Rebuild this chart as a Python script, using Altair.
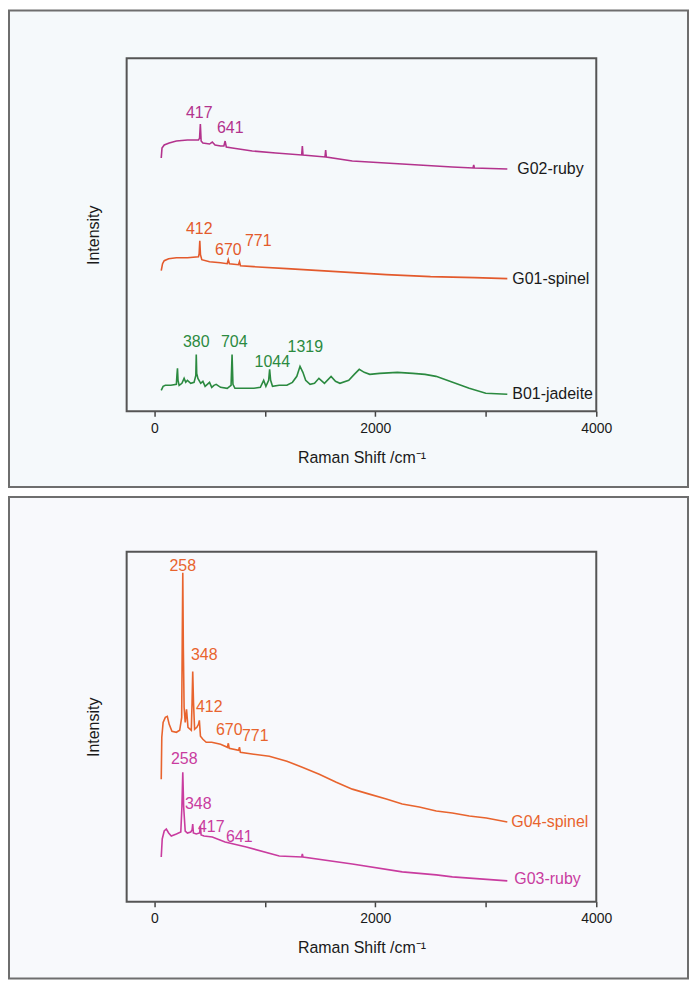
import altair as alt
import pandas as pd

# ---------------- data ----------------
X_DOMAIN = [-250, 4000]
X_TICKS = [0, 1000, 2000, 3000, 4000]
H_TOP = 354
H_BOT = 351
W = 471

# top panel spectra (intensity in arbitrary units)
G02_X = [63, 70, 90, 135, 200, 300, 400, 410, 417, 424, 440, 500, 525, 550, 600, 630, 641, 652, 706, 887,
         1100, 1334, 1340, 1346, 1545, 1551, 1557, 1792, 2244, 2697, 2885, 2891, 2897, 3195]
G02_Y = [254, 264, 267, 269, 271, 272, 272, 274, 288, 271, 269, 268, 270, 267, 266, 266, 271, 265, 264, 261,
         259, 257, 266, 257, 255, 262, 255, 251, 248, 245, 244, 247, 244, 243]

G01_X = [63, 75, 90, 130, 200, 300, 400, 406, 412, 418, 430, 500, 600, 660, 670, 680, 762, 771, 780, 900,
         1200, 1500, 1800, 2100, 2500, 2900, 3195]
G01_Y = [141, 148, 151, 153, 154, 154, 155, 158, 171, 157, 152, 150, 149, 148, 152, 148, 147, 150, 146, 145,
         143, 141, 139, 137, 135, 134, 133]

B01_X = [63, 80, 100, 150, 200, 205, 210, 215, 225, 250, 270, 285, 300, 330, 360, 376, 380, 384, 395, 420,
         440, 460, 480, 500, 520, 540, 560, 600, 660, 695, 704, 712, 730, 800, 900, 960, 990, 1010, 1035, 1044,
         1053, 1070, 1130, 1200, 1250, 1290, 1319, 1345, 1370, 1410, 1450, 1490, 1540, 1600, 1640, 1680, 1760,
         1810, 1855, 1900, 1950, 2040, 2200, 2340, 2450, 2550, 2700, 2850, 3000, 3195]
B01_Y = [21, 25, 26, 26, 27, 36, 43, 31, 26, 28, 33, 29, 31, 28, 29, 36, 57, 38, 33, 28,
         30, 25, 27, 29, 24, 26, 27, 24, 23, 26, 57, 27, 23, 23, 23, 24, 31, 25, 31, 42,
         31, 25, 26, 26, 29, 35, 45, 39, 31, 27, 28, 33, 28, 35, 30, 28, 31,
         37, 42, 39, 37, 38, 39, 38, 37, 35, 29, 23, 18, 17]

# bottom panel spectra
G04_X = [63, 68, 80, 100, 118, 135, 160, 200, 230, 248, 253, 258, 263, 270, 280, 292, 305, 335, 342, 348,
         355, 365, 385, 400, 408, 418, 440, 470, 520, 600, 662, 670, 678, 763, 771, 779, 900, 1041, 1200, 1339,
         1493, 1647, 1792, 1946, 2100, 2244, 2398, 2552, 2697, 2851, 3005, 3195]
G04_Y = [123, 165, 180, 185, 186, 178, 171, 170, 172, 185, 260, 330, 255, 195, 180, 193, 175, 172, 200, 231,
         200, 173, 175, 178, 182, 166, 163, 160, 160, 158, 155, 159, 154, 152, 155, 150, 148, 146, 141, 135,
         128, 120, 113, 108, 103, 98, 95, 91, 89, 86, 84, 80]

G03_X = [63, 72, 90, 109, 130, 154, 200, 240, 250, 258, 266, 280, 300, 330, 342, 348, 354, 380, 410, 417,
         424, 450, 525, 641, 833, 1131, 1334, 1340, 1346, 1792, 2244, 2552, 2697, 3195]
G03_Y = [45, 63, 71, 73, 69, 66, 68, 70, 95, 130, 95, 71, 69, 70, 72, 78, 69, 68, 69, 76,
         67, 66, 65, 60, 55, 46, 45, 48, 45, 38, 30, 27, 25, 21]

# peak annotations
TOP_PEAK_TEXT = ["417", "641", "412", "670", "771", "380", "704", "1044", "1319"]
TOP_PEAK_X = [407, 688, 407, 670, 941, 380, 724, 1068, 1367]
TOP_PEAK_Y = [299, 284, 183, 162, 171, 69, 69, 49, 64]
TOP_PEAK_SERIES = ["G02", "G02", "G01", "G01", "G01", "B01", "B01", "B01", "B01"]

BOT_PEAK_TEXT = ["258", "348", "412", "670", "771", "258", "348", "417", "641"]
BOT_PEAK_X = [258, 452, 498, 679, 914, 271, 398, 516, 769]
BOT_PEAK_Y = [337, 248, 195, 172, 166, 143, 98, 75, 65]
BOT_PEAK_SERIES = ["G04", "G04", "G04", "G04", "G04", "G03", "G03", "G03", "G03"]

# series names
TOP_NAMES = ["G02-ruby", "G01-spinel", "B01-jadeite"]
TOP_NAME_X = [3285, 3240, 3240]
TOP_NAME_Y = [243, 133, 17]
BOT_NAMES = ["G04-spinel", "G03-ruby"]
BOT_NAME_X = [3231, 3258]
BOT_NAME_Y = [80, 23]

COLORS = {"G02": "#b3338d", "G01": "#e35a2c", "B01": "#2b8a40", "G04": "#e8642e", "G03": "#c93c9f"}
FONT = "Liberation Sans"


def x_enc(title_pad):
    return alt.X(
        "x:Q",
        scale=alt.Scale(domain=X_DOMAIN, nice=False, zero=False),
        axis=alt.Axis(
            values=X_TICKS,
            labelExpr="datum.value % 2000 === 0 ? format(datum.value, 'd') : ''",
            tickSize=5, tickWidth=1.5, tickColor="#444", domain=False, grid=False,
            labelFont=FONT, labelFontSize=14, labelColor="#1a1a1a", labelPadding=5, labelFlush=False,
            title="Raman Shift /cm\u207b\u00b9", titleFont=FONT, titleFontSize=16,
            titleFontWeight="normal", titleColor="#1a1a1a", titlePadding=title_pad, zindex=1,
        ),
    )


def y_enc(h):
    return alt.Y(
        "y:Q",
        scale=alt.Scale(domain=[0, h], nice=False, zero=False),
        axis=alt.Axis(
            title="Intensity", labels=False, ticks=False, domain=False, grid=False,
            titleFont=FONT, titleFontSize=16, titleFontWeight="normal", titleColor="#1a1a1a",
            titlePadding=25, zindex=1,
        ),
    )


def panel(series, peaks, names, h, top, bottom, fill, name_colors):
    one = pd.DataFrame({"d": [0]})
    frame = alt.Chart(one).mark_rect(fill=fill, stroke="#6e6e6e", strokeWidth=2).encode(
        x=alt.value(-118), x2=alt.value(W + 92), y=alt.value(-top), y2=alt.value(h + bottom)
    )
    box = alt.Chart(one).mark_rect(fillOpacity=0, stroke="#555555", strokeWidth=2).encode(
        x=alt.value(0), x2=alt.value(W), y=alt.value(0), y2=alt.value(h)
    )
    layers = [frame]
    for key, xs, ys in series:
        df = pd.DataFrame({"x": xs, "y": ys})
        layers.append(
            alt.Chart(df).mark_line(color=COLORS[key], strokeWidth=1.6).encode(
                x=x_enc(14), y=y_enc(h)
            )
        )
    ptext, px, py, pser = peaks
    for key in dict.fromkeys(pser):
        df = pd.DataFrame({
            "x": [a for a, s in zip(px, pser) if s == key],
            "y": [a for a, s in zip(py, pser) if s == key],
            "t": [a for a, s in zip(ptext, pser) if s == key],
        })
        layers.append(
            alt.Chart(df).mark_text(font=FONT, fontSize=16, color=COLORS[key],
                                    align="center", baseline="middle").encode(
                x=x_enc(14), y=y_enc(h), text="t:N"
            )
        )
    nt, nx, ny = names
    for t, a, b, c in zip(nt, nx, ny, name_colors):
        df = pd.DataFrame({"x": [a], "y": [b], "t": [t]})
        layers.append(
            alt.Chart(df).mark_text(font=FONT, fontSize=16, color=c,
                                    align="left", baseline="middle").encode(
                x=x_enc(14), y=y_enc(h), text="t:N"
            )
        )
    layers.append(box)
    return alt.layer(*layers).properties(width=W, height=h)


top_chart = panel(
    [("G02", G02_X, G02_Y), ("G01", G01_X, G01_Y), ("B01", B01_X, B01_Y)],
    (TOP_PEAK_TEXT, TOP_PEAK_X, TOP_PEAK_Y, TOP_PEAK_SERIES),
    (TOP_NAMES, TOP_NAME_X, TOP_NAME_Y),
    H_TOP, 48, 76, "#f5f9fb", ["#1a1a1a", "#1a1a1a", "#1a1a1a"],
)
bottom_chart = panel(
    [("G04", G04_X, G04_Y), ("G03", G03_X, G03_Y)],
    (BOT_PEAK_TEXT, BOT_PEAK_X, BOT_PEAK_Y, BOT_PEAK_SERIES),
    (BOT_NAMES, BOT_NAME_X, BOT_NAME_Y),
    H_BOT, 55, 77, "#f8f9fc", [COLORS["G04"], COLORS["G03"]],
)

chart = (
    alt.vconcat(top_chart, bottom_chart, spacing=8)
    .properties(padding=0, background="white")
    .configure_view(strokeWidth=0)
)

chart.save("out.html", embed_options={"renderer": "svg", "actions": False})
